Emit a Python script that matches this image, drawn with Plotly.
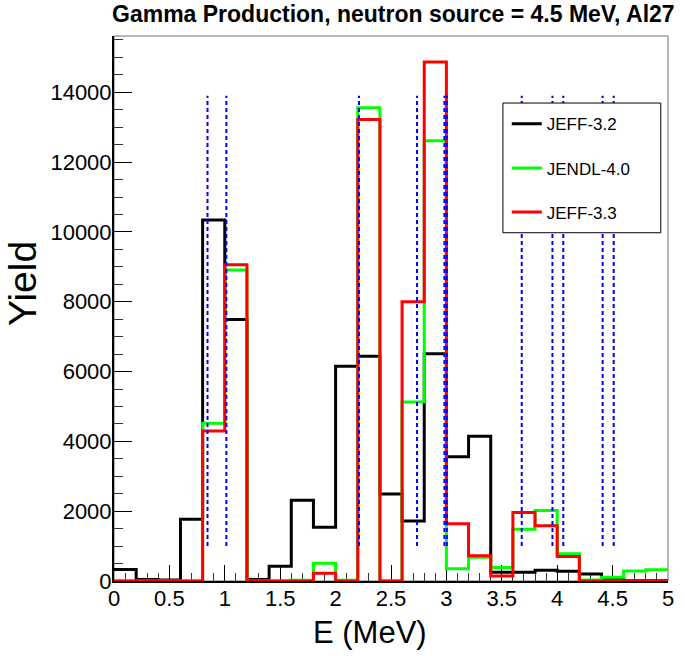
import plotly.graph_objects as go

# ---- data ----
BIN_EDGES = [0.0, 0.2, 0.4, 0.6, 0.8, 1.0, 1.2, 1.4, 1.6, 1.8, 2.0, 2.2, 2.4,
             2.6, 2.8, 3.0, 3.2, 3.4, 3.6, 3.8, 4.0, 4.2, 4.4, 4.6, 4.8, 5.0]

JEFF32 = [330, 40, 30, 1770, 10340, 7490, 40, 420, 2310, 1540, 6150, 6440, 2490,
          1720, 6510, 3560, 4150, 250, 250, 310, 280, 200, 80, 10, 10]
JENDL40 = [0, 0, 0, 0, 4520, 8910, 0, 0, 20, 510, 20, 13560, 0,
           5130, 12610, 350, 680, 390, 1480, 2020, 780, 30, 110, 290, 320]
JEFF33 = [0, 0, 0, 0, 4300, 9060, 0, 0, 0, 220, 0, 13220, 0,
          8000, 14870, 1640, 720, 140, 1960, 1580, 700, 0, 0, 0, 0]

SERIES_NAMES = ["JEFF-3.2", "JENDL-4.0", "JEFF-3.3"]

# Al-27 gamma line energies (MeV) and their marker extent (Yield)
GAMMA_LINES = [0.844, 1.014, 2.211, 2.735, 2.982, 3.004, 3.680, 3.957, 4.055, 4.410, 4.510]
LINE_YMIN = 1000
LINE_YMAX = 13900

X_TICKS = [0, 0.5, 1, 1.5, 2, 2.5, 3, 3.5, 4, 4.5, 5]
Y_TICKS = [0, 2000, 4000, 6000, 8000, 10000, 12000, 14000]

TITLE = "Gamma Production, neutron source = 4.5 MeV, Al27"
X_TITLE = "E (MeV)"
Y_TITLE = "Yield"

FONT = "Liberation Sans, Arial, Helvetica, sans-serif"
COLORS = ["#000000", "#00ff00", "#ff0000"]

fig = go.Figure()

for name, vals, color in zip(SERIES_NAMES, [JEFF32, JENDL40, JEFF33], COLORS):
    fig.add_trace(go.Scatter(
        x=BIN_EDGES, y=vals + [vals[-1]], mode="lines", name=name,
        legendgroup=name,
        line=dict(shape="hv", color=color, width=3),
        hoverinfo="skip",
    ))

lx, ly = [], []
for e in GAMMA_LINES:
    lx += [e, e, None]
    ly += [LINE_YMIN, LINE_YMAX, None]
fig.add_trace(go.Scatter(
    x=lx, y=ly, mode="lines", showlegend=False, hoverinfo="skip",
    line=dict(color="#0000ff", width=2, dash="4px,3px"),
))

fig.update_layout(
    width=685, height=656,
    margin=dict(l=114, r=11, t=36, b=75),
    paper_bgcolor="white", plot_bgcolor="white",
    font=dict(family=FONT, color="black"),
    showlegend=True,
    legend=dict(
        x=0.709, y=0.871, xanchor="left", yanchor="top",
        bgcolor="rgba(0,0,0,0)", borderwidth=0,
        font=dict(size=17, family=FONT),
        tracegroupgap=19, traceorder="grouped",
    ),
    xaxis=dict(
        range=[0, 5], tickvals=X_TICKS, ticks="inside", ticklen=16, tickwidth=1,
        tickcolor="black", showline=True, linecolor="black", linewidth=2,
        showgrid=False, zeroline=False, tickfont=dict(size=22, family=FONT),
        minor=dict(dtick=0.1, ticks="inside", ticklen=8, tickcolor="#333333"),
        layer="below traces", ticklabelstandoff=-3,
    ),
    yaxis=dict(
        range=[0, 15614], tickvals=Y_TICKS, tickformat="d", ticks="inside",
        ticklen=18, tickwidth=1, tickcolor="black", showline=True,
        linecolor="black", linewidth=2, showgrid=False, zeroline=False,
        tickfont=dict(size=22, family=FONT),
        minor=dict(dtick=500, ticks="inside", ticklen=9, tickcolor="#333333"),
        layer="below traces", ticklabelstandoff=-4,
    ),
    shapes=[
        # frame
        dict(type="rect", xref="x domain", yref="y domain", x0=0, x1=1,
             y0=0, y1=1, line=dict(color="#707070", width=1), layer="below"),
        # legend box
        dict(type="rect", xref="x domain", yref="y domain",
             x0=0.702, x1=0.987, y0=0.639, y1=0.877,
             fillcolor="white", line=dict(color="black", width=1), layer="above"),
    ],
    annotations=[
        dict(text="<b>" + TITLE + "</b>", xref="paper", yref="paper",
             x=0.505, y=1.04, xanchor="center", yanchor="middle",
             showarrow=False, font=dict(size=23, family=FONT)),
        dict(text=Y_TITLE, xref="paper", yref="paper", x=-0.164, y=0.545,
             xanchor="center", yanchor="middle", textangle=-90,
             showarrow=False, font=dict(size=39, family=FONT)),
        dict(text=X_TITLE, xref="paper", yref="paper", x=0.568, y=-0.095,
             xanchor="right", yanchor="middle",
             showarrow=False, font=dict(size=31, family=FONT)),
    ],
)

# remove the default 8px page margin so the figure fills the window exactly
fig.write_html("out.html", config={"displayModeBar": False},
               post_script="document.body.style.margin='0';")
